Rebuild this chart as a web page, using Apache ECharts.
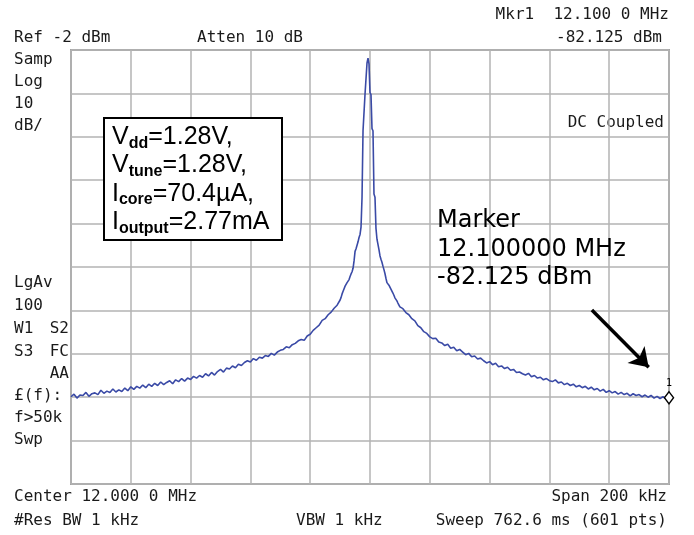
<!DOCTYPE html>
<html>
<head>
<meta charset="utf-8">
<script src="https://cdn.jsdelivr.net/npm/echarts@6/dist/echarts.min.js"></script>
<style>
html, body { margin: 0; padding: 0; background: #fff; }
#main { width: 694px; height: 535px; }
</style>
</head>
<body>
<div id="main"></div>
<script>
// 频谱仪读数 (kHz / dBm)
var centerKHz = 12000;
var spanKHz = 200;
var refLevel = -2;
var dbPerDiv = 10;

// 左侧 -100 ~ -11 kHz, 1 kHz 步进
var leftWing = [
    -81.9, -81.3, -82.2, -81.5, -81.6, -80.9, -81.8, -81.2, -81.0, -81.4,
    -80.4, -81.1, -80.6, -80.9, -80.1, -80.8, -80.3, -80.7, -79.9, -80.5,
    -79.6, -80.2, -79.5, -79.9, -79.2, -79.8, -79.0, -79.5, -78.8, -79.3,
    -78.5, -79.1, -78.6, -78.2, -78.9, -78.0, -78.4, -77.7, -78.3, -77.6,
    -77.9, -77.2, -77.6, -77.0, -77.4, -76.6, -77.1, -76.3, -76.9, -76.1,
    -75.6, -76.2, -75.3, -75.5, -74.8, -75.2, -74.4, -74.7, -74.0, -73.6,
    -73.9, -73.1, -73.5, -72.8, -73.0, -72.4, -72.6, -71.9, -72.3, -71.6,
    -71.2, -71.0, -70.4, -70.6, -69.9, -69.6, -69.0, -68.7, -68.9, -67.9,
    -67.5, -66.6, -66.0, -65.4, -64.3, -63.9, -63.0, -62.4, -61.5, -60.8
];
// 中心 -10 ~ +10 kHz, 1/3 kHz 步进
var core = [
    -59.6, -59.0, -58.2, -57.6, -57.0, -56.4, -56.0, -55.6, -55.5, -54.9,
    -54.2, -53.6, -53.1, -52.3, -50.6, -48.4, -47.8, -47.0, -46.2, -45.2,
    -44.5, -42.8, -36.0, -20.6, -20.3, -12.2, -11.9, -5.0, -3.9, -5.2,
    -11.8, -12.3, -20.1, -20.6, -35.2, -35.9, -43.1, -45.6, -46.8, -48.0,
    -49.4, -50.2, -50.9, -51.8, -52.6, -53.5, -54.6, -55.6, -55.9, -56.2,
    -56.6, -57.1, -57.5, -58.0, -58.5, -59.1, -59.4, -59.8, -60.3, -60.6,
    -61.2
];
// 右侧 +11 ~ +100 kHz, 1 kHz 步进
var rightWing = [
    -61.6, -62.5, -63.0, -63.9, -64.4, -65.5, -66.0, -66.9, -67.3, -68.1,
    -68.5, -68.4, -69.3, -69.5, -70.1, -69.8, -70.7, -70.5, -71.3, -71.0,
    -71.6, -72.2, -71.9, -72.7, -72.5, -73.2, -73.0, -73.6, -74.1, -73.8,
    -74.5, -74.2, -75.0, -74.8, -75.4, -75.1, -75.8, -75.6, -76.3, -76.2,
    -76.6, -76.9, -76.5, -77.3, -77.0, -77.6, -77.4, -78.0, -77.7, -78.2,
    -78.4, -78.0, -78.7, -78.5, -79.1, -78.8, -79.3, -79.0, -79.6, -79.3,
    -79.8, -79.5, -80.1, -79.7, -80.3, -80.0, -80.6, -80.2, -80.9, -80.5,
    -81.0, -80.7, -81.3, -80.9, -81.4, -81.1, -81.7, -81.2, -81.6, -81.4,
    -81.9, -81.5, -82.0, -81.6, -82.2, -81.8, -82.3, -81.9, -82.4, -82.125
];
// 标记
var markerKHz = 12100;
var markerDBm = -82.125;
var arrowFrom = [12074.2, -61.9];
var arrowTo = [12093.2, -75.1];

// 组装曲线
var trace = [];
for (var i = 0; i < leftWing.length; i++) {
    trace.push([centerKHz - 100 + i, leftWing[i]]);
}
for (var j = 0; j < core.length; j++) {
    trace.push([centerKHz - 10 + j / 3, core[j]]);
}
for (var k = 0; k < rightWing.length; k++) {
    trace.push([centerKHz + 11 + k, rightWing[k]]);
}

var mono = 'DejaVu Sans Mono';
function label(x, y, txt, align) {
    return {
        type: 'text', x: x, y: y, silent: true,
        style: {
            text: txt, fill: '#1a1a1a',
            font: '16px "' + mono + '"',
            textAlign: align || 'left', textVerticalAlign: 'middle'
        }
    };
}

var graphics = [
    label(14, 38, 'Ref -2 dBm'),
    label(197, 38, 'Atten 10 dB'),
    label(669, 15, 'Mkr1  12.100 0 MHz', 'right'),
    label(662, 38, '-82.125 dBm', 'right'),
    label(14, 60, 'Samp'),
    label(14, 82, 'Log'),
    label(14, 104, '10'),
    label(14, 126, 'dB/'),
    label(664, 123, 'DC Coupled', 'right'),
    label(14, 283, 'LgAv'),
    label(14, 306, '100'),
    label(14, 329, 'W1'),
    label(69, 329, 'S2', 'right'),
    label(14, 352, 'S3'),
    label(69, 352, 'FC', 'right'),
    label(69, 374, 'AA', 'right'),
    label(14, 396, '£(f):'),
    label(14, 418, 'f>50k'),
    label(14, 440, 'Swp'),
    label(14, 497, 'Center 12.000 0 MHz'),
    label(667, 497, 'Span 200 kHz', 'right'),
    label(14, 521, '#Res BW 1 kHz'),
    label(296, 521, 'VBW 1 kHz'),
    label(667, 521, 'Sweep 762.6 ms (601 pts)', 'right'),
    // 参数框
    {
        type: 'rect', silent: true, z: 100,
        shape: { x: 104, y: 118, width: 178, height: 122 },
        style: { fill: '#fff', stroke: '#000', lineWidth: 2 }
    },
    {
        type: 'text', x: 112, y: 123, silent: true, z: 101,
        style: {
            text: '{n|V}{s|dd}{n|=1.28V,}\n{n|V}{s|tune}{n|=1.28V,}\n{n|I}{s|core}{n|=70.4\u00b5A,}\n{n|I}{s|output}{n|=2.77mA}',
            rich: {
                n: { fontFamily: 'Liberation Sans', fontSize: 25, lineHeight: 28.3, fill: '#000', verticalAlign: 'middle' },
                s: { fontFamily: 'Liberation Sans', fontSize: 16, fontWeight: 'bold', lineHeight: 13, fill: '#000', verticalAlign: 'bottom' }
            }
        }
    },
    // 标记说明
    {
        type: 'text', x: 437, y: 207, silent: true, z: 100,
        style: {
            text: 'Marker\n12.100000 MHz\n-82.125 dBm',
            font: '24px "DejaVu Sans"', lineHeight: 28.5, fill: '#000'
        }
    }
];

var option = {
    backgroundColor: '#fff',
    animation: false,
    grid: {
        left: 71, right: 25, top: 50, bottom: 51,
        show: true, borderColor: '#a3a3a3', borderWidth: 2
    },
    xAxis: {
        type: 'value',
        min: centerKHz - spanKHz / 2,
        max: centerKHz + spanKHz / 2,
        interval: spanKHz / 10,
        axisLine: { show: false },
        axisTick: { show: false },
        axisLabel: { show: false },
        splitLine: { show: true, lineStyle: { color: '#b3b3b3', width: 1.5 } }
    },
    yAxis: {
        type: 'value',
        min: refLevel - 10 * dbPerDiv,
        max: refLevel,
        interval: dbPerDiv,
        axisLine: { show: false },
        axisTick: { show: false },
        axisLabel: { show: false },
        splitLine: { show: true, lineStyle: { color: '#b3b3b3', width: 1.5 } }
    },
    series: [{
        type: 'line',
        data: trace,
        showSymbol: false,
        clip: true,
        lineStyle: { color: '#3a4aa6', width: 1.6 },
        markPoint: {
            silent: true,
            symbol: 'diamond',
            symbolSize: [9, 12],
            itemStyle: { color: '#fff', borderColor: '#000', borderWidth: 1.5 },
            label: { show: true, position: 'top', distance: 2, formatter: '1', color: '#000', fontSize: 10, fontFamily: mono },
            data: [{ coord: [markerKHz, markerDBm] }]
        },
        markLine: {
            silent: true,
            symbol: ['none', 'arrow'],
            symbolSize: 18,
            label: { show: false },
            lineStyle: { color: '#000', width: 3.5, type: 'solid' },
            data: [[{ coord: arrowFrom }, { coord: arrowTo }]]
        }
    }],
    graphic: graphics
};

var myChart = echarts.init(document.getElementById('main'));
myChart.setOption(option);
</script>
</body>
</html>
